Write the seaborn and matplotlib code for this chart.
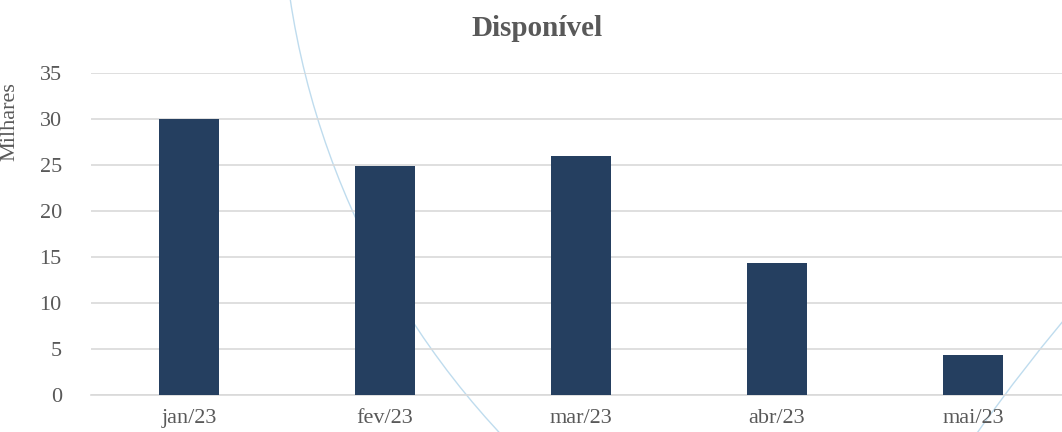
import pandas as pd
import seaborn as sns
import matplotlib.pyplot as plt
from matplotlib.patches import Circle

# data (milhares)
meses = ['jan/23', 'fev/23', 'mar/23', 'abr/23', 'mai/23']
disponivel = [30.0, 24.9, 26.0, 14.3, 4.3]
y_ticks = [0, 5, 10, 15, 20, 25, 30, 35]

df = pd.DataFrame({'mes': meses, 'valor': disponivel})

sns.set_style('white')
plt.rcParams['font.family'] = ['Liberation Serif', 'DejaVu Serif']

W, H = 1062, 432
fig = plt.figure(figsize=(W / 100, H / 100), dpi=100)

# decorative background arcs (pixel space)
bg = fig.add_axes([0, 0, 1, 1], zorder=0)
bg.set_xlim(0, W)
bg.set_ylim(H, 0)
bg.axis('off')
bg.add_patch(Circle((1097, -123), 816, fill=False, ec='#BFDCEE', lw=1.0))
bg.add_patch(Circle((2529, 1536), 1904, fill=False, ec='#BFDCEE', lw=1.0))

ax = fig.add_axes([91 / W, 37 / H, 980 / W, 322 / H], zorder=1)
ax.patch.set_alpha(0)

sns.barplot(data=df, x='mes', y='valor', color='#253F60', width=0.31,
            saturation=1, linewidth=0, ax=ax, zorder=3)

ax.set_xlim(-0.5, len(meses) - 0.5)
ax.set_ylim(0, 35)
ax.set_yticks(y_ticks)
ax.grid(axis='y', color='#D9D9D9', linewidth=1.2, zorder=0)
ax.set_axisbelow(True)
for s in ['top', 'right', 'left']:
    ax.spines[s].set_visible(False)
ax.spines['bottom'].set_color('#D9D9D9')
ax.spines['bottom'].set_linewidth(1.2)

ax.tick_params(axis='y', length=0, pad=21, labelsize=16, labelcolor='#595959')
ax.tick_params(axis='x', length=0, pad=10, labelsize=16, labelcolor='#595959')
ax.set_xlabel('')
ax.set_ylabel('Milhares', fontsize=16, color='#595959')
ax.yaxis.set_label_coords(-0.073, 0.85)

fig.text(537 / W, 1 - 28 / H, 'Disponível', ha='center', va='center',
         fontsize=21, fontweight='bold', color='#595959')

fig.savefig('out.png', dpi=100)
